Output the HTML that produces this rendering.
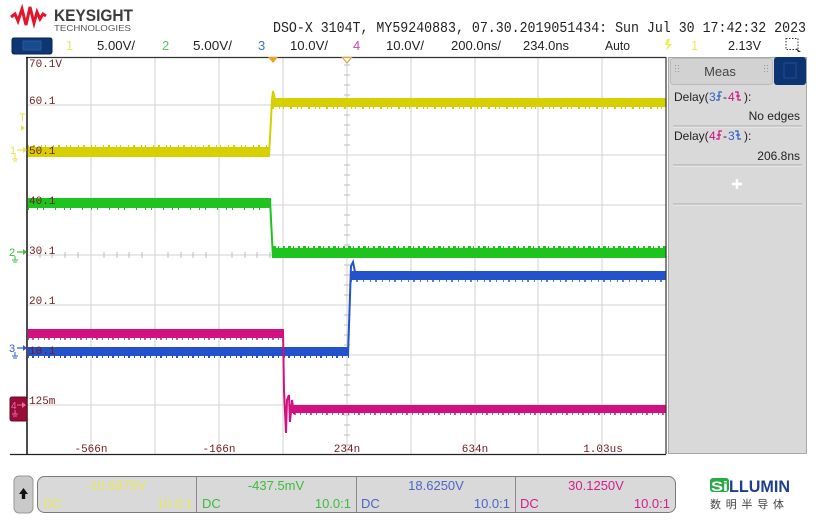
<!DOCTYPE html>
<html><head><meta charset="utf-8"><style>
html,body{margin:0;padding:0;background:#fff;}
svg{display:block;}
</style></head><body>
<svg width="816" height="523" viewBox="0 0 816 523" xmlns="http://www.w3.org/2000/svg">
<rect width="816" height="523" fill="#fff"/>
<!-- Keysight logo -->
<path d="M11,17 L15,14 L18,21 L22,9 L26,25 L30,7 L34,23 L37,12 L40,19 L43,14 L46,16" fill="none" stroke="#e2162b" stroke-width="3" stroke-linejoin="miter"/>
<text x="54" y="21" font-family="Liberation Sans, sans-serif" font-size="16.5" font-weight="bold" fill="#3c3c3c" textLength="79" lengthAdjust="spacingAndGlyphs">KEYSIGHT</text>
<text x="54" y="31" font-family="Liberation Sans, sans-serif" font-size="8.5" fill="#555" textLength="77" lengthAdjust="spacingAndGlyphs">TECHNOLOGIES</text>
<text x="273" y="32" font-family="Liberation Mono, monospace" font-size="15" fill="#222" textLength="533" lengthAdjust="spacingAndGlyphs">DSO-X 3104T, MY59240883, 07.30.2019051434: Sun Jul 30 17:42:32 2023</text>

<!-- channel row -->
<rect x="12" y="38" width="40" height="16" rx="2" fill="#0d3673" stroke="#06224f"/>
<rect x="23" y="41" width="18" height="9" fill="#1c4a8e" stroke="#2d5ea4" stroke-width="0.8"/>
<g font-family="Liberation Sans, sans-serif" font-size="13">
<text x="66" y="50" fill="#e8e470">1</text>
<text x="97" y="50" fill="#222" textLength="38" lengthAdjust="spacingAndGlyphs">5.00V/</text>
<text x="162" y="50" fill="#5cc85c">2</text>
<text x="193" y="50" fill="#222" textLength="39" lengthAdjust="spacingAndGlyphs">5.00V/</text>
<text x="258" y="50" fill="#4a6cc4">3</text>
<text x="290" y="50" fill="#222" textLength="38" lengthAdjust="spacingAndGlyphs">10.0V/</text>
<text x="353" y="50" fill="#d048a8">4</text>
<text x="386" y="50" fill="#222" textLength="38" lengthAdjust="spacingAndGlyphs">10.0V/</text>
<text x="451" y="50" fill="#222" textLength="50" lengthAdjust="spacingAndGlyphs">200.0ns/</text>
<text x="523" y="50" fill="#222" textLength="46" lengthAdjust="spacingAndGlyphs">234.0ns</text>
<text x="605" y="50" fill="#222" textLength="25" lengthAdjust="spacingAndGlyphs">Auto</text>
<text x="691" y="50" fill="#eee860">1</text>
<text x="728" y="50" fill="#222" textLength="33" lengthAdjust="spacingAndGlyphs">2.13V</text>
</g>
<path d="M667,39 L670,39 L668,44 L672,44 L666,51 L668,45 L665,45 Z" fill="#f2ec50"/>
<rect x="786" y="38.5" width="12" height="11" fill="none" stroke="#333" stroke-width="1" stroke-dasharray="1.5 1.5"/>
<path d="M796,48 L801,52 L798,52 Z" fill="#333"/>

<!-- grid -->
<g stroke="#d0d0d0" stroke-width="1">
<line x1="91" y1="57" x2="91" y2="454"/><line x1="155" y1="57" x2="155" y2="454"/>
<line x1="219" y1="57" x2="219" y2="454"/><line x1="283" y1="57" x2="283" y2="454"/>
<line x1="347" y1="57" x2="347" y2="454"/><line x1="411" y1="57" x2="411" y2="454"/>
<line x1="475" y1="57" x2="475" y2="454"/><line x1="538" y1="57" x2="538" y2="454"/>
<line x1="602" y1="57" x2="602" y2="454"/>
<line x1="27" y1="105" x2="666" y2="105"/><line x1="27" y1="155" x2="666" y2="155"/>
<line x1="27" y1="205" x2="666" y2="205"/><line x1="27" y1="255" x2="666" y2="255"/>
<line x1="27" y1="305" x2="666" y2="305"/><line x1="27" y1="355" x2="666" y2="355"/>
<line x1="27" y1="405" x2="666" y2="405"/>
</g>
<g stroke="#bcbcbc" stroke-width="1">
<path d="M344,65h6M344,75h6M344,85h6M344,95h6M344,115h6M344,125h6M344,135h6M344,145h6M344,165h6M344,175h6M344,185h6M344,195h6M344,215h6M344,225h6M344,235h6M344,245h6M344,265h6M344,275h6M344,285h6M344,295h6M344,315h6M344,325h6M344,335h6M344,345h6M344,365h6M344,375h6M344,385h6M344,395h6M344,415h6M344,425h6M344,435h6M344,445h6"/>
<path d="M40,252v6M52,252v6M65,252v6M78,252v6M104,252v6M117,252v6M129,252v6M142,252v6M168,252v6M181,252v6M193,252v6M206,252v6M232,252v6M245,252v6M257,252v6M270,252v6"/>
</g>

<!-- traces -->
<!-- yellow ch1 -->
<g fill="#d6d000" stroke="#d6d000">
<rect x="28" y="147" width="242" height="10" stroke="none"/>
<line x1="28" y1="146" x2="270" y2="146" stroke-width="2" stroke-dasharray="1 4 2 6 1 3 1 7" />
<path d="M269,156 L272,100 L273,91 L275,99" fill="none" stroke-width="2"/>
<rect x="272" y="98" width="394" height="9" stroke="none"/>
<line x1="272" y1="108" x2="666" y2="108" stroke-width="2" stroke-dasharray="2 5 1 3 1 6" />
</g>
<!-- green ch2 -->
<g fill="#1ec41e" stroke="#1ec41e">
<rect x="28" y="198" width="243" height="10" stroke="none"/>
<line x1="28" y1="209" x2="271" y2="209" stroke-width="2" stroke-dasharray="1 8 1 5 1 11" />
<path d="M270,200 L273,258" fill="none" stroke-width="2"/>
<rect x="273" y="248" width="393" height="10" stroke="none"/>
<line x1="273" y1="247" x2="666" y2="247" stroke-width="2" stroke-dasharray="3 2 1 4 2 3" />
</g>
<!-- blue ch3 -->
<g fill="#2352cc" stroke="#2352cc">
<rect x="28" y="347" width="321" height="9" stroke="none"/>
<line x1="28" y1="357" x2="349" y2="357" stroke-width="2" stroke-dasharray="1 3 2 4 1 5" />
<path d="M348,355 L351,266 L353,262 L355,272" fill="none" stroke-width="2"/>
<rect x="351" y="271" width="315" height="9" stroke="none"/>
<line x1="351" y1="281" x2="666" y2="281" stroke-width="1.5" stroke-dasharray="1 4 2 5 1 6" />
</g>
<!-- magenta ch4 -->
<g fill="#d0117f" stroke="#d0117f">
<rect x="28" y="329" width="256" height="9" stroke="none"/>
<line x1="28" y1="339" x2="284" y2="339" stroke-width="1.5" stroke-dasharray="1 3 2 4 1 5" />
<path d="M283,331 L284,390 L286,433 L287,400 L289,395 L290,422 L292,400 L294,414 L296,405" fill="none" stroke-width="2"/>
<rect x="290" y="405" width="376" height="8" stroke="none"/>
<line x1="290" y1="414" x2="666" y2="414" stroke-width="1.5" stroke-dasharray="1 3 2 4 1 5" />
</g>

<!-- plot labels (drawn over traces) -->
<g font-family="Liberation Mono, monospace" font-size="11" fill="#6e1e1e">
<text x="29" y="67">70.1V</text>
<text x="29" y="104">60.1</text>
<text x="29" y="154">50.1</text>
<text x="29" y="204">40.1</text>
<text x="29" y="254">30.1</text>
<text x="29" y="304">20.1</text>
<text x="29" y="354">10.1</text>
<text x="29" y="404">125m</text>
<text x="91" y="452" text-anchor="middle">-566n</text>
<text x="219" y="452" text-anchor="middle">-166n</text>
<text x="347" y="452" text-anchor="middle">234n</text>
<text x="475" y="452" text-anchor="middle">634n</text>
<text x="603" y="452" text-anchor="middle">1.03us</text>
</g>

<!-- plot border -->
<line x1="26" y1="57.5" x2="666" y2="57.5" stroke="#333" stroke-width="1.2"/>
<line x1="27" y1="57" x2="27" y2="454" stroke="#111" stroke-width="1.5"/>
<line x1="666" y1="57" x2="666" y2="454" stroke="#333" stroke-width="1.2"/>
<line x1="10" y1="454.5" x2="666" y2="454.5" stroke="#222" stroke-width="1.2"/>

<!-- top markers -->
<path d="M268,57 L278,57 L273,63 Z" fill="#f0a020"/>
<path d="M342.5,57.5 L351.5,57.5 L347,63 Z" fill="#fff" stroke="#e3a545" stroke-width="1.2"/>

<!-- left markers -->
<g fill="#e8e050" stroke="#e8e050" font-family="Liberation Sans, sans-serif" font-size="11">
<text x="19" y="121" stroke="none">T</text>
<path d="M21,125 L25,128 L21,131 Z" stroke="none"/>
<text x="10" y="154" stroke="none">1</text>
<path d="M17,150 L24,150" fill="none" stroke-width="1.2"/><path d="M23,147 L27,150 L23,153 Z" stroke="none"/>
<path d="M15,154 L15,159 M12,159 L18,159 M13,161 L17,161" fill="none" stroke-width="1"/>
</g>
<g fill="#3cbc3c" stroke="#3cbc3c" font-family="Liberation Sans, sans-serif" font-size="11">
<text x="9" y="256" stroke="none">2</text>
<path d="M17,252 L24,252" fill="none" stroke-width="1.2"/><path d="M23,249 L27,252 L23,255 Z" stroke="none"/>
<path d="M15,256 L15,260 M12,260 L18,260 M13,262 L17,262" fill="none"/>
</g>
<g fill="#2d5ccc" stroke="#2d5ccc" font-family="Liberation Sans, sans-serif" font-size="11">
<text x="9" y="352" stroke="none">3</text>
<path d="M17,348 L24,348" fill="none" stroke-width="1.2"/><path d="M23,345 L27,348 L23,351 Z" stroke="none"/>
<path d="M15,352 L15,356 M12,356 L18,356 M13,358 L17,358" fill="none"/>
</g>
<rect x="10" y="397" width="17" height="24" rx="2" fill="#980d38" stroke="#6a0826"/>
<g fill="#e070a8" stroke="#e070a8" font-family="Liberation Sans, sans-serif" font-size="10">
<text x="11" y="409" stroke="none">4</text>
<path d="M17,405 L23,405" fill="none"/><path d="M22,402 L26,405 L22,408 Z" stroke="none"/>
<path d="M15,410 L15,414 M12,414 L18,414 M13,416 L17,416" fill="none"/>
</g>

<!-- right panel -->
<rect x="668.5" y="57.5" width="138" height="396" fill="#d9d9d9" stroke="#a8a8a8"/>
<rect x="670.5" y="58.5" width="102" height="26" rx="3" fill="#d2d2d2" stroke="#bbb"/>
<g fill="#999"><rect x="675" y="65" width="1" height="1"/><rect x="678" y="65" width="1" height="1"/><rect x="675" y="68" width="1" height="1"/><rect x="678" y="68" width="1" height="1"/><rect x="675" y="71" width="1" height="1"/><rect x="678" y="71" width="1" height="1"/>
<rect x="764" y="65" width="1" height="1"/><rect x="767" y="65" width="1" height="1"/><rect x="764" y="68" width="1" height="1"/><rect x="767" y="68" width="1" height="1"/><rect x="764" y="71" width="1" height="1"/><rect x="767" y="71" width="1" height="1"/></g>
<text x="720" y="76" text-anchor="middle" font-family="Liberation Sans, sans-serif" font-size="13" fill="#444">Meas</text>
<rect x="774" y="57" width="32" height="28" rx="3" fill="#0c3470"/>
<rect x="784" y="63" width="12" height="15" fill="none" stroke="#1f4d92" stroke-width="1"/>

<g font-family="Liberation Sans, sans-serif" font-size="12" fill="#222">
<text x="674" y="101">Delay(</text>
<text x="709" y="101" fill="#2f5dcc">3</text>
<text x="723" y="101">-</text>
<text x="728" y="101" fill="#d0117f">4</text>
<text x="744" y="101">):</text>
<text x="800" y="120" text-anchor="end">No edges</text>
<text x="674" y="140">Delay(</text>
<text x="709" y="140" fill="#d0117f">4</text>
<text x="723" y="140">-</text>
<text x="728" y="140" fill="#2f5dcc">3</text>
<text x="744" y="140">):</text>
<text x="800" y="160" text-anchor="end">206.8ns</text>
</g>
<path d="M716,100 L719,100 L719,92 L722,92 M717,96 L721,96" fill="none" stroke="#2f5dcc" stroke-width="1.2"/>
<path d="M735,92 L738,92 L738,100 L741,100 M736,96 L740,96" fill="none" stroke="#d0117f" stroke-width="1.2"/>
<path d="M716,139 L719,139 L719,131 L722,131 M717,135 L721,135" fill="none" stroke="#d0117f" stroke-width="1.2"/>
<path d="M735,131 L738,131 L738,139 L741,139 M736,135 L740,135" fill="none" stroke="#2f5dcc" stroke-width="1.2"/>
<g stroke-width="1">
<line x1="673" y1="126" x2="802" y2="126" stroke="#aaa"/><line x1="673" y1="127" x2="802" y2="127" stroke="#eee"/>
<line x1="673" y1="165" x2="802" y2="165" stroke="#aaa"/><line x1="673" y1="166" x2="802" y2="166" stroke="#eee"/>
<line x1="673" y1="204" x2="802" y2="204" stroke="#aaa"/><line x1="673" y1="205" x2="802" y2="205" stroke="#eee"/>
</g>
<path d="M737,179 L737,189 M732,184 L742,184" stroke="#fff" stroke-width="2.5"/>

<!-- bottom bar -->
<rect x="14" y="476" width="19" height="37" rx="5" fill="#c9c9c9" stroke="#999"/>
<path d="M23.5,488 L28,494 L25.2,494 L25.2,499 L21.8,499 L21.8,494 L19,494 Z" fill="#111"/>
<rect x="37.5" y="476.5" width="638" height="36" rx="7" fill="#d9d9d9" stroke="#7a7a7a"/>
<g stroke="#8a8a8a"><line x1="196.5" y1="477" x2="196.5" y2="512"/><line x1="356.5" y1="477" x2="356.5" y2="512"/><line x1="515.5" y1="477" x2="515.5" y2="512"/></g>
<g font-family="Liberation Sans, sans-serif" font-size="13">
<g fill="#e8e65a">
<text x="116" y="490" text-anchor="middle">-10.6875V</text>
<text x="43" y="508">DC</text>
<text x="193" y="508" text-anchor="end">10.0:1</text>
</g>
<g fill="#3cbc3c">
<text x="276" y="490" text-anchor="middle">-437.5mV</text>
<text x="202" y="508">DC</text>
<text x="351" y="508" text-anchor="end">10.0:1</text>
</g>
<g fill="#4a66c8">
<text x="436" y="490" text-anchor="middle">18.6250V</text>
<text x="361" y="508">DC</text>
<text x="510" y="508" text-anchor="end">10.0:1</text>
</g>
<g fill="#d0208a">
<text x="596" y="490" text-anchor="middle">30.1250V</text>
<text x="520" y="508">DC</text>
<text x="670" y="508" text-anchor="end">10.0:1</text>
</g>
</g>

<!-- SiLLUMIN logo -->
<rect x="710" y="478" width="19" height="14" rx="3" fill="#2aa84a"/>
<text x="711" y="491" font-family="Liberation Sans, sans-serif" font-size="14" font-weight="bold" fill="#fff" textLength="17" lengthAdjust="spacingAndGlyphs">Si</text>
<text x="729" y="492" font-family="Liberation Sans, sans-serif" font-size="17" font-weight="bold" fill="#1e3f8e" textLength="61" lengthAdjust="spacingAndGlyphs">LLUMIN</text>
<text x="710" y="508" font-family="Liberation Sans, 'Noto Sans CJK SC', sans-serif" font-size="11" fill="#444" textLength="74" lengthAdjust="spacing">数明半导体</text>
</svg>
</body></html>
